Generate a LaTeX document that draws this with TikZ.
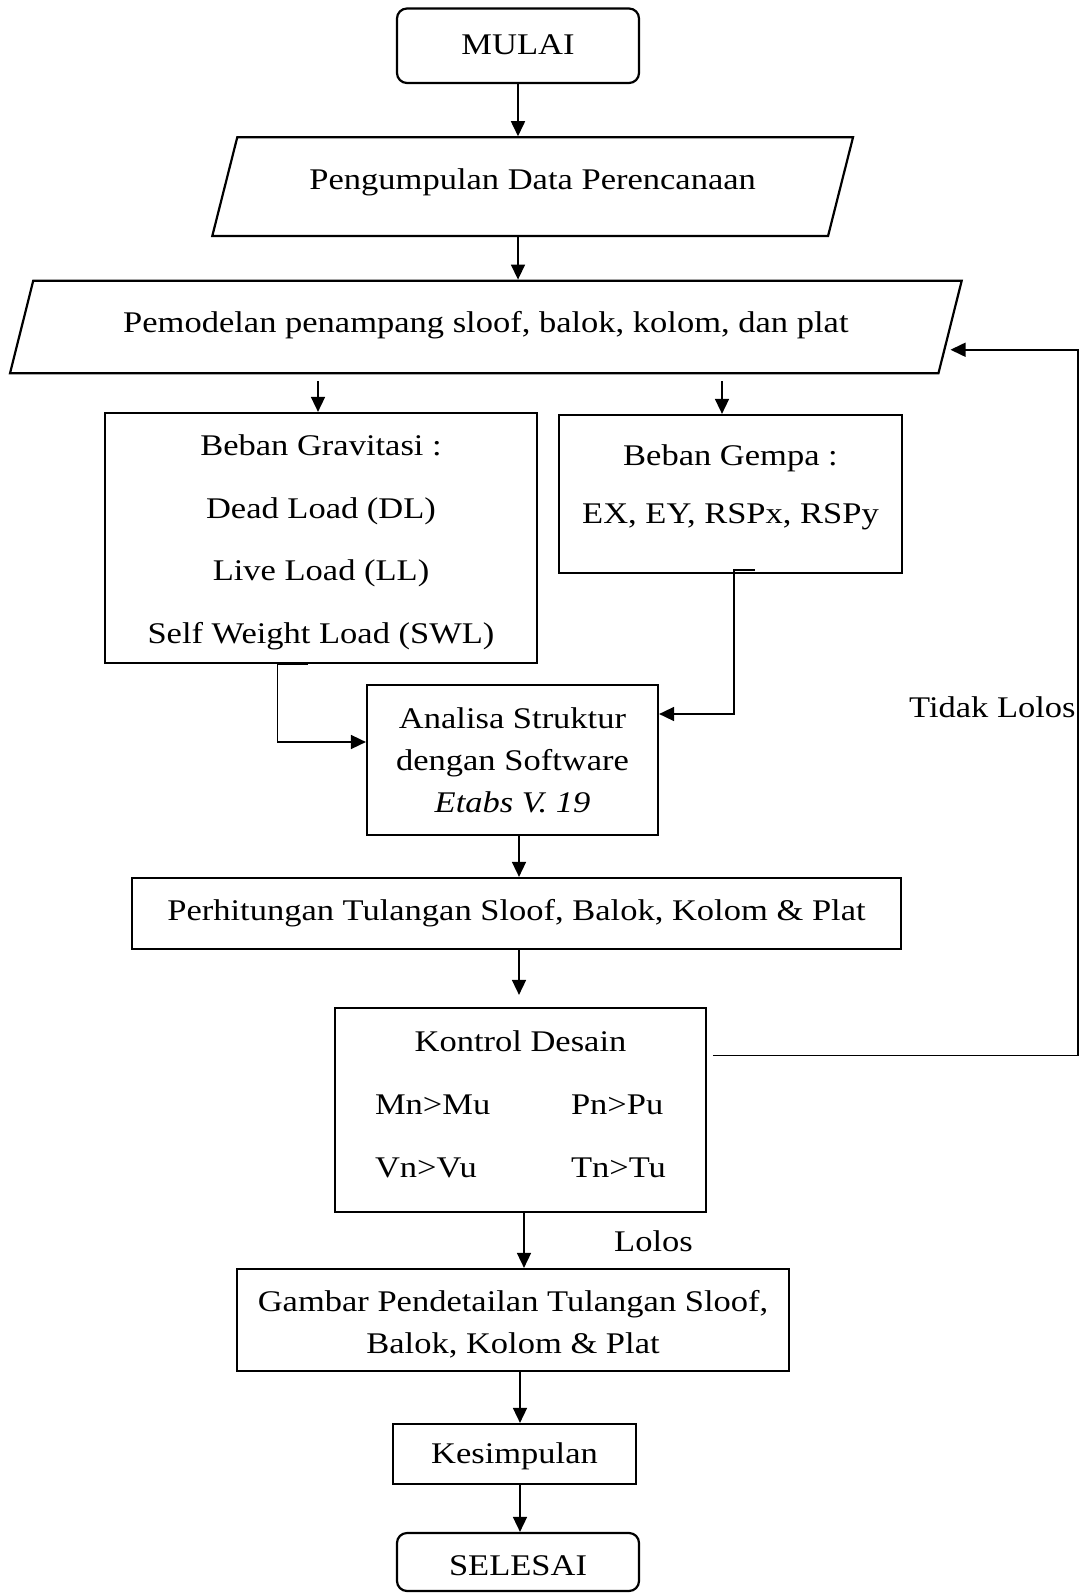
\documentclass[tikz,border=0pt]{standalone}
\usepackage{fontspec}
\setmainfont[FakeStretch=1.15]{Liberation Serif}
\usepackage{tikz}
\usetikzlibrary{arrows.meta,shapes.geometric,calc}

% move text up or down inside a box without changing its size
\newcommand{\lift}[2]{\raisebox{#1}[\height][\depth]{#2}}

\begin{document}
\begin{tikzpicture}[
    x=0.5pt, y=-0.5pt,
    font=\fontsize{15}{18}\selectfont,
    box/.style={rectangle, draw, line width=1.1pt, align=center, inner sep=0pt},
    terminal/.style={box, rounded corners=5pt},
    iobox/.style={trapezium, draw, line width=1.1pt, trapezium stretches body=true, inner xsep=0pt, text height=11pt, text depth=3.5pt},
    arrow/.style={-{Triangle[length=7.5pt,width=7pt]}, line width=0.8pt},
]
    \useasboundingbox (0,0) rectangle (1086,1593);

    % Start and input data
    \node[terminal, minimum width=121pt, minimum height=37.25pt] (mulai) at (518,45.75) {\lift{0.5pt}{MULAI}};
    \node[iobox, inner ysep=17.4pt, trapezium left angle=75.8, trapezium right angle=104.2, minimum width=320.35pt] (data) at (532.65,186.65) {\lift{2.3pt}{Pengumpulan Data Perencanaan}};
    \node[iobox, inner ysep=15.9pt, trapezium left angle=75.9, trapezium right angle=104.1, minimum width=475.85pt] (model) at (485.85,327) {\lift{1pt}{Pemodelan penampang sloof, balok, kolom, dan plat}};

    % Loads
    \node[box, minimum width=216pt, minimum height=125pt, font=\fontsize{15}{31.3}\selectfont] (grav) at (321,538) {\lift{-2.2pt}{Beban Gravitasi :}\\\lift{-2.2pt}{Dead Load (DL)}\\\lift{-2.2pt}{Live Load (LL)}\\\lift{-2.2pt}{Self Weight Load (SWL)}};
    \node[box, minimum width=171.5pt, minimum height=79pt, font=\fontsize{15}{29}\selectfont] (gempa) at (730.5,494) {\lift{3.5pt}{Beban Gempa :}\\\lift{3.5pt}{EX, EY, RSPx, RSPy}};

    % Analysis and reinforcement
    \node[box, minimum width=145.5pt, minimum height=75pt, font=\fontsize{15}{21}\selectfont] (analisa) at (512.5,760) {Analisa Struktur\\dengan Software\\\textit{Etabs V. 19}};
    \node[box, minimum width=384.5pt, minimum height=35.5pt] (hitung) at (516.5,913.5) {Perhitungan Tulangan Sloof, Balok, Kolom \& Plat};

    % Design check
    \node[box, minimum width=185.5pt, minimum height=102pt, font=\fontsize{15}{31.5}\selectfont] (kontrol) at (520.5,1110) {\lift{4.1pt}{\begin{tabular}{@{}p{98pt}@{}l@{}}\multicolumn{2}{@{}c@{}}{Kontrol Desain}\\Mn>Mu & Pn>Pu\\Vn>Vu & Tn>Tu\end{tabular}}};

    % Drawings and end
    \node[box, minimum width=276pt, minimum height=51pt, font=\fontsize{15}{21}\selectfont] (gambar) at (513,1320) {\lift{-2.3pt}{Gambar Pendetailan Tulangan Sloof,}\\\lift{-2.3pt}{Balok, Kolom \& Plat}};
    \node[box, minimum width=121.5pt, minimum height=30pt] (simpul) at (514.5,1454) {\lift{-1.3pt}{Kesimpulan}};
    \node[terminal, minimum width=121pt, minimum height=29pt] (selesai) at (518,1562) {\lift{-1.8pt}{SELESAI}};

    % Labels
    \node[anchor=east, inner sep=0pt] (tidak) at (1076,707) {Tidak Lolos};
    \node (lolos) at (653.5,1241) {Lolos};

    % Main flow
    \draw[arrow] (mulai.south) -- (mulai.south |- data.north);
    \draw[arrow] (mulai.south |- data.south) -- (mulai.south |- model.north);
    \draw[arrow, shorten <=3.5pt] ([xshift=-1.5pt]grav.north |- model.south) -- ([xshift=-1.5pt]grav.north);
    \draw[arrow, shorten <=3.5pt] ([xshift=-4.25pt]gempa.north |- model.south) -- ([xshift=-4.25pt]gempa.north);
    \draw[arrow] ([xshift=-6.5pt]grav.south) -- ++(-15.25pt,0) |- ([yshift=9pt]analisa.west);
    \draw[arrow] ([shift={(12.25pt,2.15pt)}]gempa.south) -- ++(-10.5pt,0) |- ([yshift=23pt]analisa.east);
    \draw[arrow] ([xshift=3.25pt]analisa.south) -- ([xshift=3.25pt]analisa.south |- hitung.north);
    \draw[arrow, shorten >=6pt] ([xshift=1.25pt]hitung.south) -- ([xshift=1.25pt]hitung.south |- kontrol.north);
    \draw[arrow] ([xshift=1.75pt]kontrol.south) -- ([xshift=1.75pt]kontrol.south |- gambar.north);
    \draw[arrow] ([xshift=3.5pt]gambar.south) -- ([xshift=3.5pt]gambar.south |- simpul.north);
    \draw[arrow] ([xshift=2.75pt]simpul.south) -- ([xshift=2.75pt]simpul.south |- selesai.north);

    % Back to modelling when the check fails
    \coordinate (turn) at (1078,1055.3);
    \draw[arrow, shorten >=2.5pt] ([xshift=2.85pt]kontrol.east |- turn) -- (turn) |- ($(model.top right corner)!0.74!(model.bottom right corner)$);
\end{tikzpicture}
\end{document}
